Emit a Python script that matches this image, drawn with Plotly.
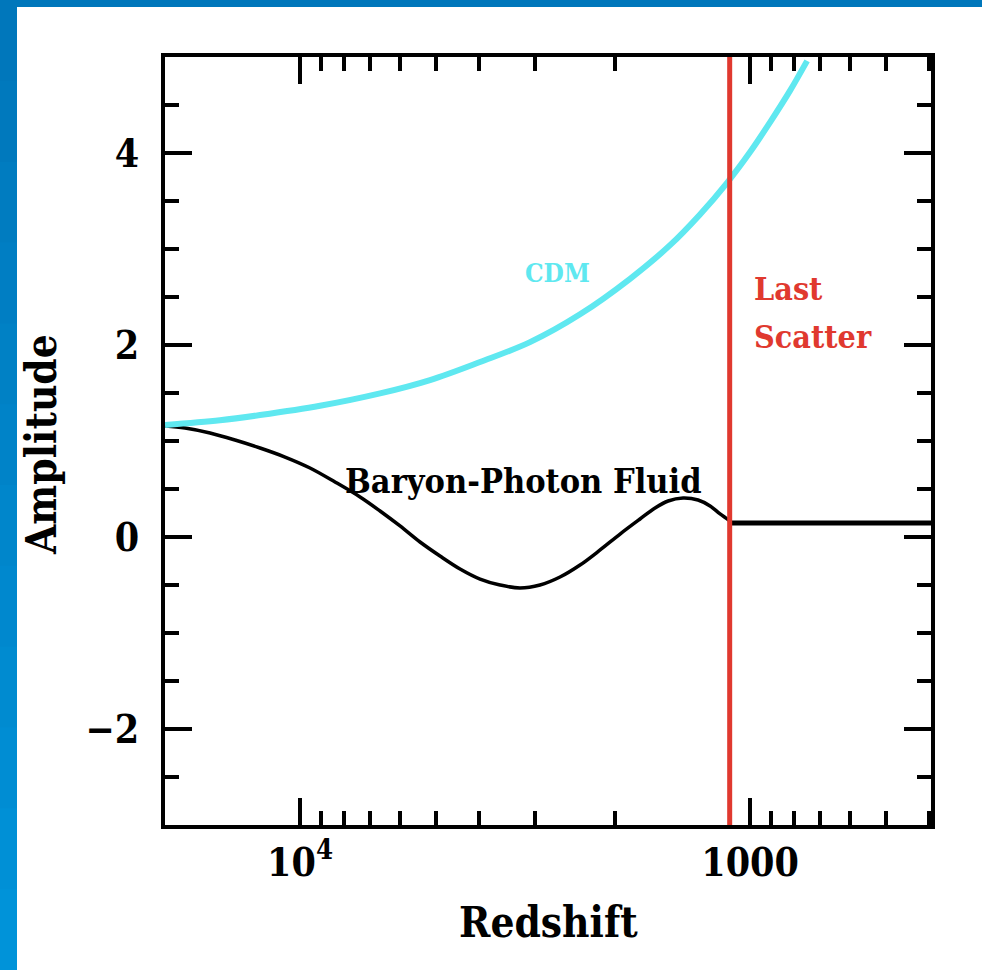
import plotly.graph_objects as go

# ---- data ----
cdm_z = [19953, 15060, 12270, 9027, 6640, 5142, 3981, 3083, 2387, 1848, 1506, 1292, 1125, 1000, 903, 815, 747]
cdm_amp = [1.167, 1.216, 1.27, 1.367, 1.496, 1.635, 1.823, 2.03, 2.32, 2.69, 3.04, 3.36, 3.69, 4.01, 4.32, 4.65, 4.96]

bp_z = [19953, 18010, 15849, 13944, 12270, 10798, 9502, 8360, 7356, 6640, 5995, 5412, 4886, 4410,
        3981, 3594, 3245, 2929, 2644, 2387, 2154, 1945, 1756, 1626, 1521, 1409, 1305, 1227, 1166, 1110]
bp_amp = [1.156, 1.135, 1.083, 1.010, 0.927, 0.833, 0.719, 0.573, 0.417, 0.271, 0.115, -0.052, -0.198, -0.333,
          -0.438, -0.50, -0.531, -0.50, -0.417, -0.292, -0.135, 0.031, 0.1875, 0.302, 0.375, 0.406, 0.385,
          0.323, 0.240, 0.170]

after_z = [1110, 396]
after_amp = [0.146, 0.146]

z_last_scatter = 1110
ls_amp = [-3, 5]

x_tickvals = [10000, 1000]
x_ticktext = ["10<sup>4</sup>", "1000"]
x_minor = [9000, 8000, 7000, 6000, 5000, 4000, 3000, 2000, 900, 800, 700, 600, 500, 400]
y_tickvals = [-2, 0, 2, 4]
y_ticktext = ["\u22122", "0", "2", "4"]

FONT = "DejaVu Serif Condensed, DejaVu Serif, serif"
CYAN = "#5FE8F0"
RED = "#E0392F"

fig = go.Figure()
fig.add_trace(go.Scatter(x=bp_z, y=bp_amp, mode="lines", line=dict(color="black", width=3.5, shape="spline"),
                         hoverinfo="skip", showlegend=False))
fig.add_trace(go.Scatter(x=cdm_z, y=cdm_amp, mode="lines", line=dict(color=CYAN, width=6, shape="spline"),
                         hoverinfo="skip", showlegend=False))
fig.add_trace(go.Scatter(x=after_z, y=after_amp, mode="lines", line=dict(color="black", width=5),
                         hoverinfo="skip", showlegend=False))
fig.add_trace(go.Scatter(x=[z_last_scatter, z_last_scatter], y=ls_amp, mode="lines",
                         line=dict(color=RED, width=5), hoverinfo="skip", showlegend=False))

# blue frame (decorative background bands)
L, R, T, B = 165, 51, 57, 145
W, H = 982, 970
pw, ph = W - L - R, H - T - B
def px(x): return (x - L) / pw
def py(y): return 1 - (y - T) / ph
shapes = []
segs = 12
c0 = (0x00, 0x77, 0xBB); c1 = (0x00, 0x93, 0xD9)
for i in range(segs):
    t = i / (segs - 1)
    c = tuple(int(c0[k] + (c1[k] - c0[k]) * t) for k in range(3))
    shapes.append(dict(type="rect", xref="paper", yref="paper", x0=px(0), x1=px(17),
                       y0=py(min(H, H * (i + 1) / segs + 2)), y1=py(H * i / segs),
                       fillcolor="#%02X%02X%02X" % c, line=dict(width=0), layer="below"))
shapes.append(dict(type="rect", xref="paper", yref="paper", x0=px(0), x1=px(W), y0=py(7), y1=py(0),
                   fillcolor="#0077BB", line=dict(width=0), layer="below"))

def ann(text, x, y, size, color, **kw):
    d = dict(text=text, xref="paper", yref="paper", x=px(x), y=py(y), showarrow=False,
             xanchor="center", yanchor="middle",
             font=dict(family=FONT, size=size, color=color, weight="bold"))
    d.update(kw)
    return d

fig.update_layout(
    width=W, height=H, margin=dict(l=L, r=R, t=T, b=B, autoexpand=False),
    paper_bgcolor="white", plot_bgcolor="white", showlegend=False,
    shapes=shapes,
    xaxis=dict(type="log", range=[4.3, 2.598], tickmode="array", tickvals=x_tickvals, ticktext=x_ticktext,
               ticks="inside", ticklen=27, tickwidth=4, tickcolor="black",
               minor=dict(tickmode="array", tickvals=x_minor, ticks="inside", ticklen=14, tickwidth=4, tickcolor="black"),
               showline=True, linecolor="black", linewidth=4, mirror="ticks", showgrid=False, zeroline=False,
               tickfont=dict(family=FONT, size=39, color="black", weight="bold"), ticklabelstandoff=0),
    yaxis=dict(range=[-3, 5], tickmode="array", tickvals=y_tickvals, ticktext=y_ticktext,
               ticks="inside", ticklen=27, tickwidth=4, tickcolor="black",
               minor=dict(dtick=0.5, tick0=0, ticks="inside", ticklen=14, tickwidth=4, tickcolor="black"),
               showline=True, linecolor="black", linewidth=4, mirror="ticks", showgrid=False, zeroline=False,
               tickfont=dict(family=FONT, size=39, color="black", weight="bold"), ticklabelstandoff=14),
    annotations=[
        ann("Redshift", 548, 922, 42, "black"),
        ann("Amplitude", 41, 445, 42, "black", textangle=-90),
        ann("CDM", 557, 273, 26, CYAN),
        ann("Last", 752, 289, 32, RED, xanchor="left"),
        ann("Scatter", 752, 337, 32, RED, xanchor="left"),
        ann("Baryon-Photon Fluid", 523, 481, 34, "black"),
    ],
)

fig.write_html("out.html")
